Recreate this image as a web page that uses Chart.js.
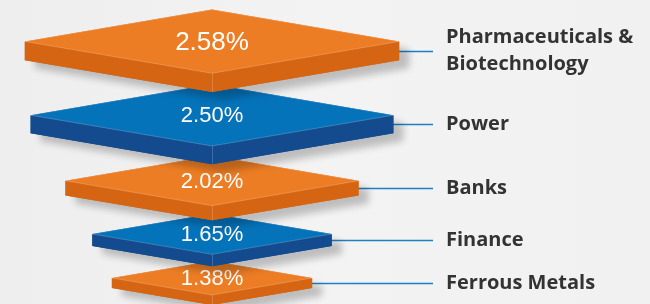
<!DOCTYPE html>
<html>
<head>
<meta charset="utf-8">
<script src="https://cdn.jsdelivr.net/npm/chart.js@4/dist/chart.umd.min.js"></script>
<style>
  html, body { margin: 0; padding: 0; background: #f2f2f2; }
  canvas { display: block; }
</style>
</head>
<body>
<canvas id="sector-chart" width="650" height="304"></canvas>
<script>
// Données du graphique
const categories = [
  ['Pharmaceuticals &', 'Biotechnology'],
  ['Power'],
  ['Banks'],
  ['Finance'],
  ['Ferrous Metals']
];
const values = [2.58, 2.50, 2.02, 1.65, 1.38];
const valueLabels = values.map(v => v.toFixed(2) + '%');

const total = values.reduce((a, b) => a + b, 0);

// Couleurs alternées orange / bleu
const topColors = ['#ec7d24', '#0573ba'];
const sideColors = ['#d66513', '#144b8e'];

// Plugin : dessine chaque segment empilé sous forme de losange 3D
const diamondPlugin = {
  id: 'diamonds',
  beforeDraw(chart) {
    const ctx = chart.ctx;
    const g = ctx.createLinearGradient(0, 0, chart.width, 0);
    g.addColorStop(0, '#eeeeee');
    g.addColorStop(0.5, '#f3f3f3');
    g.addColorStop(1, '#f1f1f1');
    ctx.save();
    ctx.fillStyle = g;
    ctx.fillRect(0, 0, chart.width, chart.height);
    ctx.restore();
  },
  afterDatasetsDraw(chart) {
    const ctx = chart.ctx;
    const shapes = chart.data.datasets.map((ds, i) => {
      const el = chart.getDatasetMeta(i).data[0];
      const { x, y, base } = el.getProps(['x', 'y', 'base'], true);
      const H = Math.abs(base - y);
      const cy = (y + base) / 2;
      const hw = H * 2.5;
      return { cx: x, cy, hw, hh: hw * 0.17, t: hw * 0.1 };
    });

    // Lignes de liaison vers les étiquettes
    ctx.save();
    ctx.strokeStyle = '#1f80c4';
    ctx.lineWidth = 1.5;
    shapes.forEach(s => {
      const ly = Math.round(s.cy + s.t / 2) + 0.5;
      ctx.beginPath();
      ctx.moveTo(s.cx + s.hw - 4, ly);
      ctx.lineTo(433, ly);
      ctx.stroke();
    });
    ctx.restore();

    // Losanges, du bas vers le haut
    for (let i = shapes.length - 1; i >= 0; i--) {
      const { cx, cy, hw, hh, t } = shapes[i];
      const top = topColors[i % 2];
      const side = sideColors[i % 2];

      // Ombre portée
      ctx.save();
      ctx.shadowColor = 'rgba(0,0,0,0.22)';
      ctx.shadowBlur = 7;
      ctx.shadowOffsetX = 10;
      ctx.shadowOffsetY = 8;
      ctx.fillStyle = side;
      ctx.beginPath();
      ctx.moveTo(cx, cy - hh);
      ctx.lineTo(cx + hw, cy);
      ctx.lineTo(cx + hw, cy + t);
      ctx.lineTo(cx, cy + hh + t);
      ctx.lineTo(cx - hw, cy + t);
      ctx.lineTo(cx - hw, cy);
      ctx.closePath();
      ctx.fill();
      ctx.restore();

      ctx.save();
      // Faces latérales
      ctx.fillStyle = side;
      ctx.beginPath();
      ctx.moveTo(cx - hw, cy);
      ctx.lineTo(cx, cy + hh);
      ctx.lineTo(cx + hw, cy);
      ctx.lineTo(cx + hw, cy + t);
      ctx.lineTo(cx, cy + hh + t);
      ctx.lineTo(cx - hw, cy + t);
      ctx.closePath();
      ctx.fill();

      // Arête centrale
      ctx.strokeStyle = 'rgba(255,255,255,0.18)';
      ctx.lineWidth = 1;
      ctx.beginPath();
      ctx.moveTo(Math.round(cx) + 0.5, cy + hh);
      ctx.lineTo(Math.round(cx) + 0.5, cy + hh + t);
      ctx.stroke();

      // Face supérieure
      ctx.fillStyle = top;
      ctx.beginPath();
      ctx.moveTo(cx, cy - hh);
      ctx.lineTo(cx + hw, cy);
      ctx.lineTo(cx, cy + hh);
      ctx.lineTo(cx - hw, cy);
      ctx.closePath();
      ctx.fill();
      ctx.strokeStyle = 'rgba(255,255,255,0.2)';
      ctx.stroke();

      // Valeur
      ctx.fillStyle = '#ffffff';
      ctx.font = (i === 0 ? 26 : 22) + 'px "Liberation Sans", Arial, sans-serif';
      ctx.textAlign = 'center';
      ctx.textBaseline = 'middle';
      ctx.fillText(valueLabels[i], cx, cy + 1);
      ctx.restore();
    }

    // Étiquettes des catégories
    ctx.save();
    ctx.fillStyle = '#333333';
    ctx.font = '700 20px "Open Sans", sans-serif';
    ctx.textAlign = 'left';
    ctx.textBaseline = 'middle';
    shapes.forEach((s, i) => {
      const lines = categories[i];
      const ly = s.cy + s.t / 2;
      const y0 = ly - (lines.length - 1) * 27 / 2;
      lines.forEach((line, k) => ctx.fillText(line, 446, y0 + k * 27));
    });
    ctx.restore();
  }
};

const chartCanvas = document.getElementById('sector-chart');

new Chart(chartCanvas, {
  type: 'bar',
  data: {
    labels: [''],
    datasets: categories.map((c, i) => ({
      label: c.join(' '),
      data: [values[i]],
      stack: 'secteurs',
      backgroundColor: 'rgba(0,0,0,0)',
      borderWidth: 0
    }))
  },
  options: {
    responsive: false,
    animation: false,
    layout: { padding: { left: 0, right: 226, top: 4, bottom: 6 } },
    plugins: {
      legend: { display: false },
      tooltip: { enabled: false }
    },
    scales: {
      x: { display: false, stacked: true },
      y: { display: false, stacked: true, reverse: true, min: 0, max: total }
    }
  },
  plugins: [diamondPlugin]
});
</script>
</body>
</html>
